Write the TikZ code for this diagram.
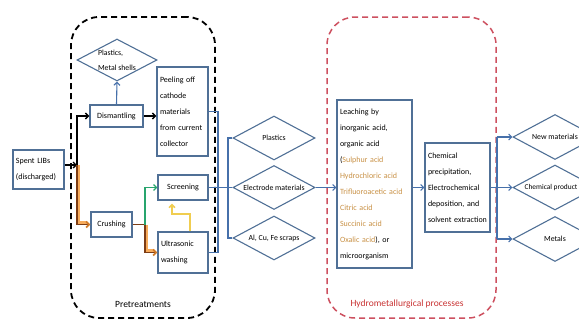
\documentclass[tikz,border=0pt]{standalone}
\usepackage{fontspec}
\setmainfont{Carlito}
\usetikzlibrary{shapes.geometric,arrows.meta}
\definecolor{boxc}{RGB}{80,112,150}
\definecolor{arrc}{RGB}{70,112,170}
\definecolor{acid}{RGB}{200,145,70}
\definecolor{hydroc}{RGB}{205,80,95}
\definecolor{hydrolab}{RGB}{200,50,50}
\definecolor{brownc}{RGB}{125,60,20}
\definecolor{orangec}{RGB}{245,150,50}
\definecolor{greenc}{RGB}{40,165,110}
\definecolor{yellowc}{RGB}{240,205,80}
\newcommand{\zw}[1]{\makebox[0pt]{#1}}
\begin{document}
\begin{tikzpicture}[x=1pt,y=-1pt,
  every node/.style={font=\fontsize{8}{16}\selectfont},
  box/.style={draw=boxc, line width=1.1pt, inner sep=3pt, align=left},
  cbox/.style={draw=boxc, line width=1.1pt, inner sep=2pt, align=center},
  dia/.style={draw=boxc, line width=1.1pt, diamond, inner sep=0pt, minimum width=82pt, minimum height=44pt, font=\fontsize{7.8}{15}\selectfont},
  blu/.style={draw=arrc, line width=1.1pt},
  bluarr/.style={blu, -{Straight Barb[length=3pt,width=6pt]}},
  blkarr/.style={draw=black, line width=1.4pt, -{Straight Barb[length=3pt,width=6pt]}},
  glowo/.style={draw=orangec, line width=3.5pt, opacity=0.8},
  brn/.style={draw=brownc, line width=1.8pt},
  brnarr/.style={brn, -{Straight Barb[length=3pt,width=6pt,color=orangec!70!brownc]}},
  grnarr/.style={draw=greenc, line width=1.3pt, -{Straight Barb[length=3pt,width=6pt]}},
  yelarr/.style={draw=yellowc, line width=1.6pt, -{Straight Barb[length=3pt,width=6pt]}},
  region/.style={rectangle, rounded corners=28pt, dash pattern=on 6pt off 4pt, line width=1.8pt},
  lab/.style={font=\fontsize{9.5}{11}\selectfont}
]
\useasboundingbox (0,0) rectangle (579,324);
\clip (0,0) rectangle (579,324);

% regions
\node[region, draw=black, minimum width=144pt, minimum height=301pt] (pre) at (143,167.5) {};
\node[lab] (prelab) at (143,304) {Pretreatments};
\node[region, draw=hydroc, line width=1.5pt, minimum width=169pt, minimum height=301pt] (hyd) at (411.5,167.5) {};
\node[lab, text=hydrolab] (hydlab) at (407,304) {Hydrometallurgical processes};

% nodes
\node[box, text width=45pt, minimum height=39pt] (spent) at (38.5,169.5) {Spent LIBs\\(discharged)};
\node[cbox, minimum width=53pt, minimum height=22pt] (dism) at (116.5,116) {Dismantling};
\node[dia, minimum width=80pt, minimum height=42pt] (pms) at (117,60) {\zw{\begin{tabular}{@{}l@{}}Plastics,\\Metal shells\end{tabular}}};
\node[box, text width=45pt, minimum height=89pt] (peel) at (182.5,111.5) {Peeling off\\cathode\\materials\\from current\\collector};
\node[cbox, minimum width=41pt, minimum height=25pt] (crush) at (111.5,224.5) {Crushing};
\node[cbox, minimum width=50pt, minimum height=25pt] (screen) at (183,187.5) {Screening};
\node[box, text width=44pt, minimum height=41pt] (ultra) at (183,252.5) {Ultrasonic\\washing};

\node[dia] (plast) at (274,138) {\zw{Plastics}};
\node[dia] (elec) at (274,187.5) {\zw{Electrode materials}};
\node[dia] (alcu) at (274,238) {\zw{Al, Cu, Fe scraps}};

\node[box, text width=69pt, minimum height=168pt] (leach) at (374.5,184) {Leaching by\\inorganic acid,\\organic acid\\(\textcolor{acid}{Sulphur acid}\\\textcolor{acid}{Hydrochloric acid}\\\textcolor{acid}{Trifluoroacetic acid}\\\textcolor{acid}{Citric acid}\\\textcolor{acid}{Succinic acid}\\\textcolor{acid}{Oxalic acid}), or\\microorganism};
\node[box, text width=59pt, minimum height=89pt] (chem) at (457.5,187.5) {Chemical\\precipitation,\\Electrochemical\\deposition, and\\solvent extraction};

\node[dia, minimum width=84pt, minimum height=45pt] (newm) at (555,137) {\zw{New materials}};
\node[dia, minimum width=84pt, minimum height=45pt, font=\fontsize{7.4}{15}\selectfont] (chprod) at (555,187.5) {\zw{Chemical product\hspace*{8pt}}};
\node[dia, minimum width=84pt, minimum height=45pt] (metals) at (555,239) {\zw{Metals}};

% connectors
\coordinate (j1) at (77,165);
\coordinate (j2) at (145,224.5);
\draw[blkarr] (spent.east |- j1) -- (j1);
\draw[blkarr] (j1) |- (dism.west);
\draw[blkarr] (dism.east) -- (peel.west |- dism.east);
\draw[bluarr] (dism.north) -- (pms.south);

\draw[glowo] ([xshift=1.5pt]j1) |- ([yshift=1.5pt,xshift=-3pt]crush.west);
\draw[brnarr] (j1) |- (crush.west);
\draw[brn] (crush.east) -- (j2);
\draw[grnarr] (j2) |- (screen.west);
\draw[glowo] ([xshift=1.5pt]j2) |- ([yshift=1.5pt,xshift=-3pt]ultra.west);
\draw[brnarr] (j2) |- (ultra.west);

\coordinate (y1) at (190,214);
\coordinate (y2) at (172,214);
\draw[yelarr, shorten >=3pt] (ultra.north -| y1) -- (y1) -- (y2) -- (screen.south -| y2);

\coordinate (b1) at (218,0);
\coordinate (b2) at (228,0);
\coordinate (b3) at (497,0);
\draw[blu] (peel.east) -- (peel.east -| b1) -- (ultra.east -| b1) -- (ultra.east);
\draw[blu] (screen.east) -- (screen.east -| b2);
\draw[blu] (plast.west) -- (plast.west -| b2) -- (alcu.west -| b2) -- (alcu.west);
\draw[blu] (elec.west -| b2) -- (elec.west);
\draw[bluarr] (elec.east) -- (leach.west |- elec.east);
\draw[bluarr] (leach.east |- chem.west) -- (chem.west);

\draw[blu] (chem.east) -- (chem.east -| b3);
\draw[blu, line width=1.4pt] (newm.west -| b3) -- (metals.west -| b3);
\draw[bluarr] (newm.west -| b3) -- (newm.west);
\draw[bluarr] (chprod.west -| b3) -- (chprod.west);
\draw[bluarr] (metals.west -| b3) -- (metals.west);
\end{tikzpicture}
\end{document}
